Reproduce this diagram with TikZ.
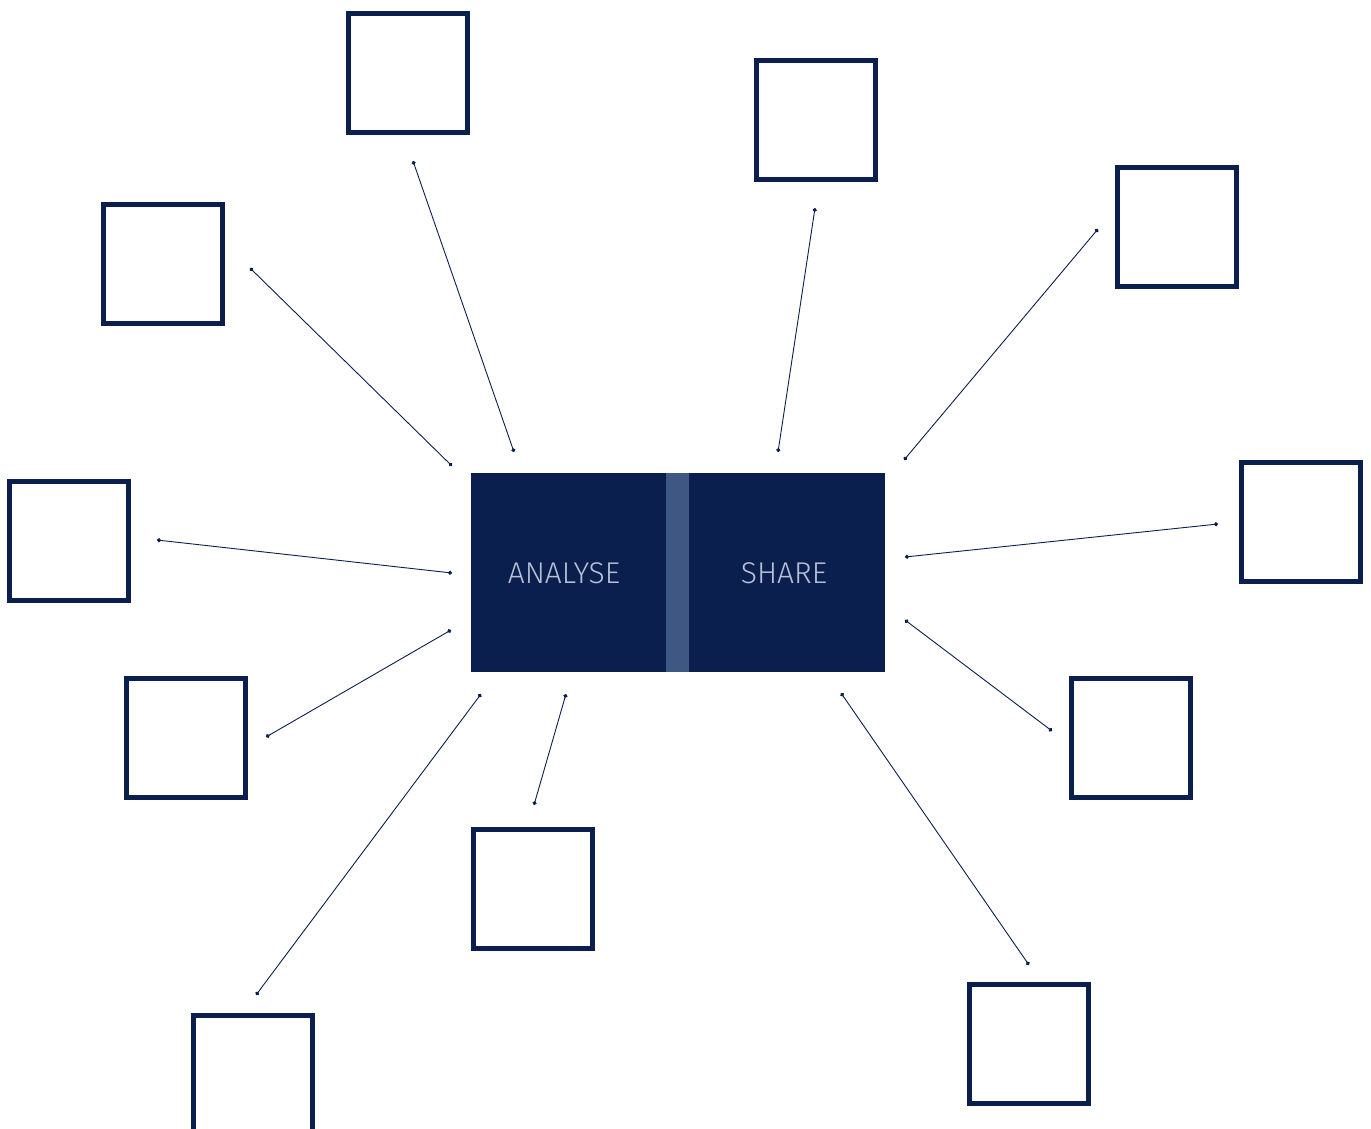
\documentclass[tikz,border=0pt]{standalone}
\usepackage{fontspec}
\setsansfont{Fira Sans Light}
\usetikzlibrary{arrows.meta}

\definecolor{navy}{HTML}{0A1F4D}
\definecolor{band}{HTML}{3E5783}
\definecolor{pale}{HTML}{B6C0D6}

\begin{document}
\begin{tikzpicture}[x=1pt, y=-1pt,
	box/.style={draw=navy, line width=5pt, minimum size=119pt, inner sep=0pt},
	label/.style={text=pale, inner sep=0pt, font=\sffamily\fontsize{30}{36}\selectfont},
	spoke/.style={navy, line width=0.9pt, {Circle[length=4pt]}-{Circle[length=4pt]}},]
\useasboundingbox (0,0) rectangle (1371,1128);

% Create the central block
\node[fill=navy, inner sep=0pt, minimum width=414pt, minimum height=199pt] (main) at (678,572.5) {};
\node[fill=band, inner sep=0pt, minimum width=23pt, minimum height=199pt] (divider) at (677.5,572.5) {};
\node[label] (analyse) at (564,573) {ANALYSE};
\node[label] (share) at (784,573) {SHARE};

% Create the boxes
\node[box] (b1) at (407.5,72.5) {};
\node[box] (b2) at (815.5,120) {};
\node[box] (b3) at (1176.5,227) {};
\node[box] (b4) at (163,263.5) {};
\node[box] (b5) at (68.5,540.5) {};
\node[box] (b6) at (1300.5,521.5) {};
\node[box] (b7) at (186,738) {};
\node[box] (b8) at (1131,738) {};
\node[box] (b9) at (533,888.5) {};
\node[box] (b10) at (1029,1043.5) {};
\node[box] (b11) at (253,1075) {};

% Spoke ends
\coordinate (s1) at (413,161);   \coordinate (e1) at (514,452);
\coordinate (s2) at (815,208);   \coordinate (e2) at (778,452);
\coordinate (s3) at (1098,229);  \coordinate (e3) at (904,460);
\coordinate (s4) at (250,268);   \coordinate (e4) at (452,466);
\coordinate (s5) at (157,540);   \coordinate (e5) at (452,573);
\coordinate (s6) at (1218,524);  \coordinate (e6) at (905,557);
\coordinate (s7) at (266,737);   \coordinate (e7) at (451,630);
\coordinate (s8) at (1052,731);  \coordinate (e8) at (905,620);
\coordinate (s9) at (534,805);   \coordinate (e9) at (566,694);
\coordinate (s10) at (1029,965); \coordinate (e10) at (841,693);
\coordinate (s11) at (256,995);  \coordinate (e11) at (481,694);

% Draw the spokes
\draw[spoke] (s1) -- (e1);
\draw[spoke] (s2) -- (e2);
\draw[spoke] (s3) -- (e3);
\draw[spoke] (s4) -- (e4);
\draw[spoke] (s5) -- (e5);
\draw[spoke] (s6) -- (e6);
\draw[spoke] (s7) -- (e7);
\draw[spoke] (s8) -- (e8);
\draw[spoke] (s9) -- (e9);
\draw[spoke] (s10) -- (e10);
\draw[spoke] (s11) -- (e11);

\end{tikzpicture}
\end{document}
